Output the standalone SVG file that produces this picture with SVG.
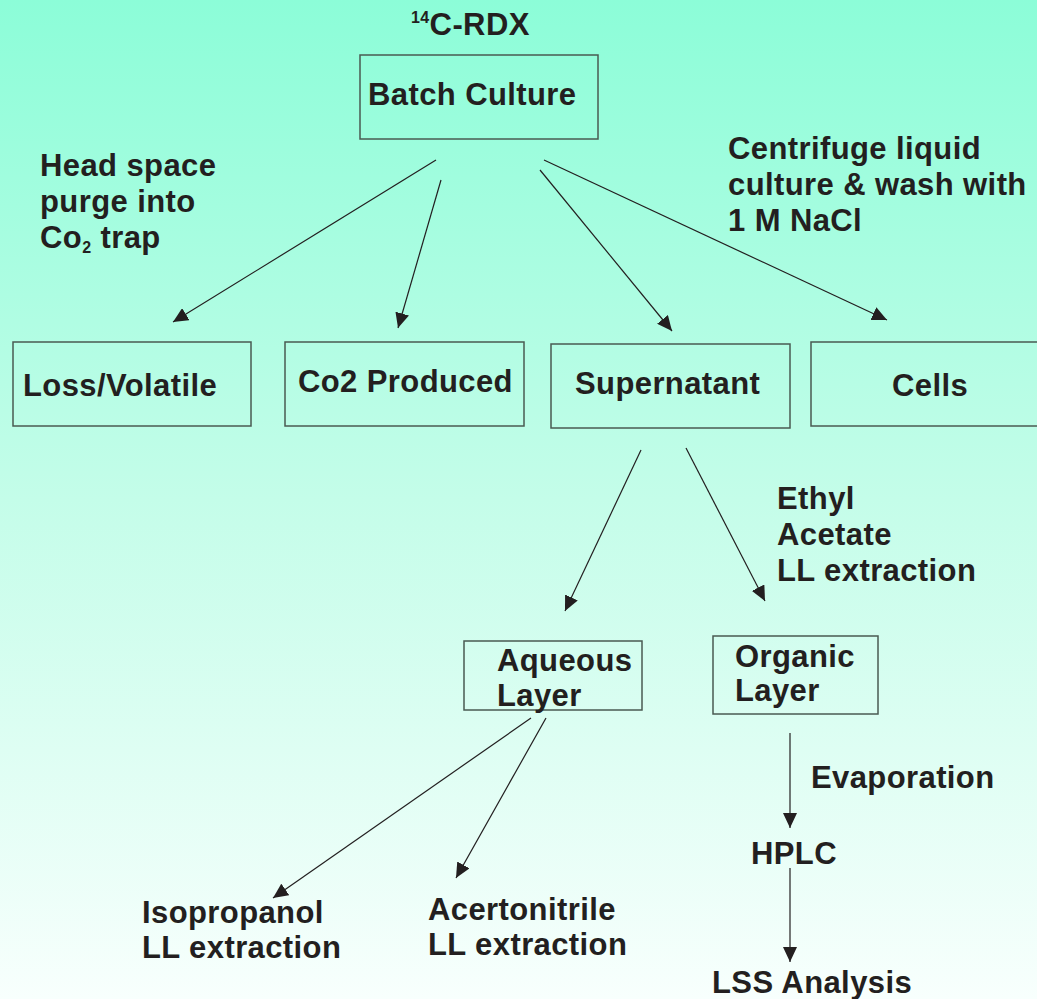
<svg xmlns="http://www.w3.org/2000/svg" width="1037" height="999" viewBox="0 0 1037 999">
<defs>
<linearGradient id="bg" x1="0" y1="0" x2="0" y2="1">
<stop offset="0" stop-color="#8cfdd8"/>
<stop offset="0.5" stop-color="#c4fde9"/>
<stop offset="1" stop-color="#f8fffd"/>
</linearGradient>
<marker id="ah" markerWidth="16" markerHeight="14" refX="15" refY="7" orient="auto" markerUnits="userSpaceOnUse">
<path d="M0,0 L15,7 L0,14 Z" fill="#231f20"/>
</marker>
<style>
.t{font-family:"Liberation Sans",Arial,sans-serif;font-weight:bold;font-size:31px;letter-spacing:0.4px;fill:#231f20}
.b{fill:none;stroke:#4a5a52;stroke-width:1.5}
.c{stroke:#231f20;stroke-width:1.2;fill:none;marker-end:url(#ah)}
</style>
</defs>
<rect width="1037" height="999" fill="url(#bg)"/>
<g id="labels">
<text class="t" x="411" y="35"><tspan font-size="16" dy="-12">14</tspan><tspan dy="12">C-RDX</tspan></text>
<text class="t" x="40" y="176">Head space</text>
<text class="t" x="40" y="212">purge into</text>
<text class="t" x="40" y="248">Co<tspan font-size="16" dy="5">2</tspan><tspan dy="-5"> trap</tspan></text>
<text class="t" x="728" y="159">Centrifuge liquid</text>
<text class="t" x="728" y="195">culture &amp; wash with</text>
<text class="t" x="728" y="231">1 M NaCl</text>
<text class="t" x="777" y="509">Ethyl</text>
<text class="t" x="777" y="545">Acetate</text>
<text class="t" x="777" y="581">LL extraction</text>
<text class="t" x="811" y="788">Evaporation</text>
</g>
<g id="batch"><rect class="b" x="360" y="55" width="238" height="84"/><text class="t" x="368" y="105">Batch Culture</text></g>
<g id="loss"><rect class="b" x="13" y="342" width="238" height="84"/><text class="t" x="23" y="396">Loss/Volatile</text></g>
<g id="co2"><rect class="b" x="285" y="342" width="239" height="84"/><text class="t" x="298" y="392">Co2 Produced</text></g>
<g id="supernatant"><rect class="b" x="551" y="344" width="239" height="84"/><text class="t" x="575" y="394">Supernatant</text></g>
<g id="cells"><rect class="b" x="811" y="342" width="232" height="84"/><text class="t" x="892" y="396">Cells</text></g>
<g id="aqueous"><rect class="b" x="464" y="641" width="178" height="69"/><text class="t" x="497" y="671">Aqueous</text><text class="t" x="497" y="706">Layer</text></g>
<g id="organic"><rect class="b" x="713" y="636" width="165" height="78"/><text class="t" x="735" y="667">Organic</text><text class="t" x="735" y="701">Layer</text></g>
<g id="hplc"><text class="t" x="751" y="864">HPLC</text></g>
<g id="lss"><text class="t" x="712" y="993">LSS Analysis</text></g>
<g id="isopropanol"><text class="t" x="142" y="923">Isopropanol</text><text class="t" x="142" y="958">LL extraction</text></g>
<g id="acetonitrile"><text class="t" x="428" y="920">Acertonitrile</text><text class="t" x="428" y="955">LL extraction</text></g>
<g id="connectors">
<line class="c" x1="436" y1="160" x2="173" y2="322"/>
<line class="c" x1="441" y1="180" x2="398" y2="328"/>
<line class="c" x1="540" y1="170" x2="672" y2="331"/>
<line class="c" x1="544" y1="160" x2="887" y2="320"/>
<line class="c" x1="641" y1="450" x2="565" y2="611"/>
<line class="c" x1="686" y1="448" x2="765" y2="601"/>
<line class="c" x1="531" y1="718" x2="273" y2="898"/>
<line class="c" x1="546" y1="718" x2="456" y2="878"/>
<line class="c" x1="790" y1="733" x2="790" y2="828"/>
<line class="c" x1="790" y1="868" x2="790" y2="962"/>
</g>
</svg>
